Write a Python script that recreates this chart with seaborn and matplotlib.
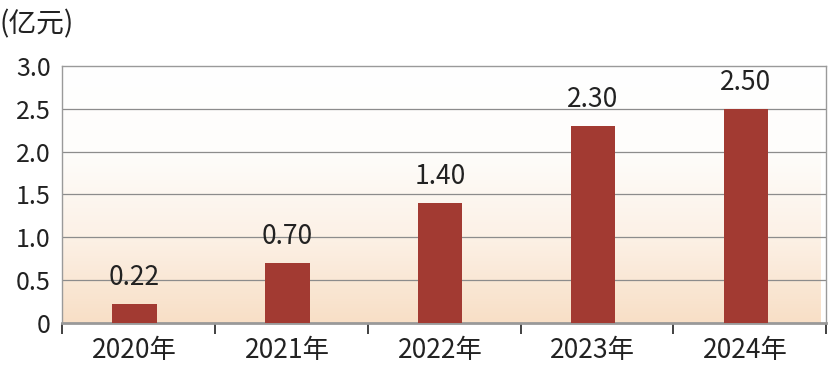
import numpy as np
import matplotlib
matplotlib.use("Agg")
import matplotlib.pyplot as plt
import matplotlib.transforms as mtransforms
from matplotlib.colors import LinearSegmentedColormap
import seaborn as sns
import pandas as pd

# data
years = ["2020年", "2021年", "2022年", "2023年", "2024年"]
values = [0.22, 0.70, 1.40, 2.30, 2.50]
value_labels = ["0.22", "0.70", "1.40", "2.30", "2.50"]
yticks = [0, 0.5, 1.0, 1.5, 2.0, 2.5, 3.0]
ytick_labels = ["0", "0.5", "1.0", "1.5", "2.0", "2.5", "3.0"]

sns.set_style("white")
plt.rcParams['font.family'] = ['Noto Sans CJK SC', 'DejaVu Sans']

df = pd.DataFrame({"year": years, "value": values})

fig = plt.figure(figsize=(8.38, 3.78), dpi=100)
ax = fig.add_axes([0.074, 0.1455, 0.912, 0.68])

x0, x1 = -0.475, 4.49

# soft gradient background, white at top to peach at bottom
grad_cmap = LinearSegmentedColormap.from_list("bg", ["#f8dfc6", "#fcf1e6", "#fefdfb", "#ffffff"])
grad = np.linspace(0, 1, 256).reshape(-1, 1)
ax.imshow(grad, cmap=grad_cmap, aspect="auto", origin="lower",
          extent=[x0, x1, 0, 3.0], zorder=0)

sns.barplot(data=df, x="year", y="value", color="#a23a32", width=0.29,
            saturation=1, linewidth=0, ax=ax, zorder=3)

ax.set_xlim(x0, x1)
ax.set_ylim(0, 3.0)

for y in yticks[1:-1]:
    ax.axhline(y, color="#8c8c8c", lw=0.9, zorder=1)

for i, (v, lab) in enumerate(zip(values, value_labels)):
    ax.text(i, v + 0.15, lab, ha="center", va="bottom", fontsize=19,
            color="#222222", zorder=4)

ax.set_yticks(yticks)
ax.set_yticklabels(ytick_labels, fontsize=18, color="#222222")
shift = mtransforms.ScaledTranslation(0, 5 / 72, fig.dpi_scale_trans)
for lab in ax.get_yticklabels():
    lab.set_transform(lab.get_transform() + shift)
ax.tick_params(axis="y", length=0, pad=8)

ax.set_xticks(range(len(years)))
ax.set_xticklabels(years, fontsize=19, color="#222222")
ax.tick_params(axis="x", which="major", length=0, pad=10)
# boundary tick marks between categories
ax.set_xticks(np.arange(x0 + 0.002, 5, 1.0), minor=True)
ax.tick_params(axis="x", which="minor", bottom=True, length=8, width=1.3,
               color="#333333", direction="out")

ax.set_xlabel("")
ax.set_ylabel("")

for side in ["top", "right", "left"]:
    ax.spines[side].set_color("#9a9a9a")
    ax.spines[side].set_linewidth(1.0)
ax.spines["bottom"].set_color("#999999")
ax.spines["bottom"].set_linewidth(2.0)

fig.text(0.0, 0.935, "(亿元)", fontsize=20, color="#222222", ha="left", va="center")

fig.savefig("out.png", dpi=100)
